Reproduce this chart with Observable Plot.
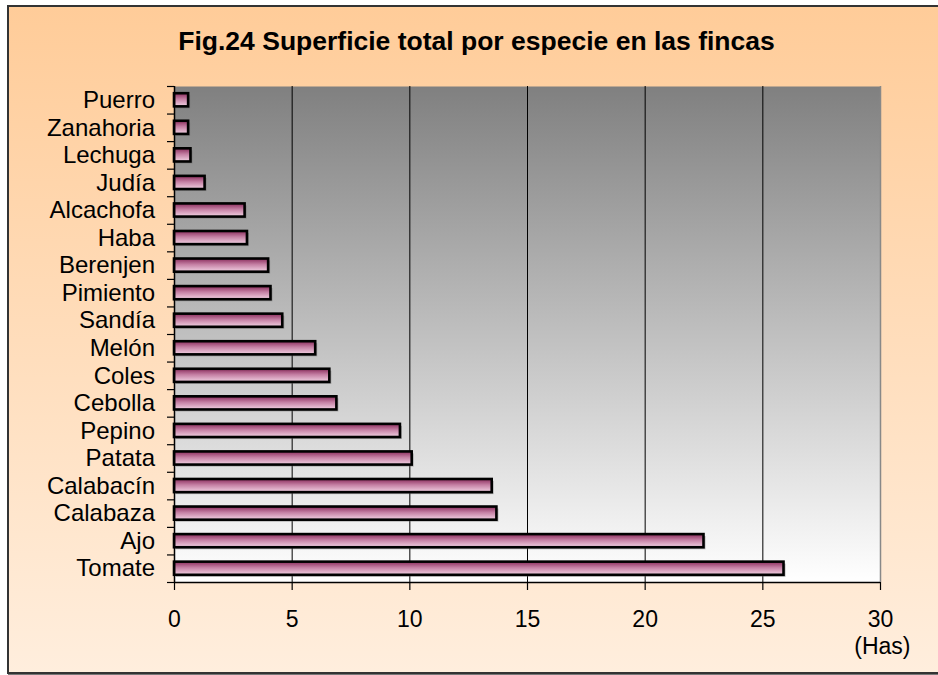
<!DOCTYPE html>
<html><head><meta charset="utf-8">
<script src="https://cdn.jsdelivr.net/npm/d3@7"></script>
<script src="https://cdn.jsdelivr.net/npm/@observablehq/plot@0.6"></script>
<style>
body{margin:0;background:#fff;overflow:hidden;}
#wrap{position:relative;width:938px;height:675px;overflow:hidden;font-family:"Liberation Sans",Arial,sans-serif;}
#frame{position:absolute;left:7px;top:5px;width:940px;height:665px;border:2px solid #333;background:linear-gradient(#FFCC99,#FFEEDD);box-shadow:1px 1px 0 #777;}
#title{position:absolute;left:0;width:953px;top:28px;text-align:center;font-weight:bold;font-size:26.5px;line-height:26px;color:#000;}
#chart{position:absolute;left:0;top:0;}
</style></head>
<body>
<svg width="0" height="0" style="position:absolute">
<defs>
<linearGradient id="pg" x1="0" y1="0" x2="0" y2="1">
<stop offset="0" stop-color="#808080"/><stop offset="1" stop-color="#ffffff"/>
</linearGradient>
<linearGradient id="bg" x1="0" y1="0" x2="0" y2="1">
<stop offset="0" stop-color="#8a2c5c"/><stop offset="0.45" stop-color="#c580a4"/><stop offset="1" stop-color="#f2d2e3"/>
</linearGradient>
</defs>
</svg>
<div id="wrap">
<div id="frame"></div>
<div id="title">Fig.24 Superficie total por especie en las fincas</div>
<div id="chart"></div>
</div>
<script>
const categories = ["Puerro","Zanahoria","Lechuga","Judía","Alcachofa","Haba","Berenjen","Pimiento","Sandía","Melón","Coles","Cebolla","Pepino","Patata","Calabacín","Calabaza","Ajo","Tomate"];
const values = [0.6,0.6,0.7,1.3,3.0,3.1,4.0,4.1,4.6,6.0,6.6,6.9,9.6,10.1,13.5,13.7,22.5,25.9];
const xTicks = [0,5,10,15,20,25,30];
const gridValues = [5,10,15,20,25];
const xLabel = "(Has)";

const data = categories.map((c,i)=>({especie:c, superficie:values[i]}));
const W=938,H=675,mT=86,mB=93,mL=174,mR=58;
const step=(H-mT-mB)/categories.length;
const inset=7.2;

const chart = Plot.plot({
  width:W,height:H,marginTop:mT,marginBottom:mB,marginLeft:mL,marginRight:mR,
  style:{background:"transparent",fontFamily:"'Liberation Sans', Arial, sans-serif",fontSize:"23px",color:"#000",overflow:"visible"},
  x:{domain:[0,30],ticks:xTicks},
  y:{domain:categories,padding:0,round:false},
  marks:[
    Plot.frame({fill:"url(#pg)",stroke:null}),
    Plot.ruleX(gridValues,{stroke:"#000",strokeWidth:1}),
    Plot.ruleX([30],{stroke:"#888",strokeWidth:1.5}),
    Plot.barX(data,{x:"superficie",y:"especie",insetTop:inset,insetBottom:inset,fill:"#666",fillOpacity:0.45,dx:2,dy:2}),
    Plot.barX(data,{x:"superficie",y:"especie",insetTop:inset,insetBottom:inset,fill:"url(#bg)",stroke:"#000",strokeWidth:2.6}),
    Plot.ruleY([categories[categories.length-1]],{y:d=>d,dy:step/2,x1:0,x2:30,stroke:"#000",strokeWidth:1.5}),
    Plot.ruleX([0],{stroke:"#000",strokeWidth:1.5}),
    Plot.axisX({ticks:xTicks,tickSize:8,tickPadding:20,label:null,stroke:"#000",strokeWidth:1.2}),
    Plot.axisY({ticks:categories,tickSize:7,tickFormat:()=>"",label:null,dy:-step/2,stroke:"#000",strokeWidth:1.2}),
    Plot.axisY({ticks:[categories[categories.length-1]],tickSize:7,tickFormat:()=>"",label:null,dy:step/2,stroke:"#000",strokeWidth:1.2}),
    Plot.axisY({ticks:categories,tickSize:0,tickPadding:19.5,label:null,fontSize:24}),
    Plot.text([xLabel],{text:d=>d,frameAnchor:"bottom-right",dx:30,dy:71,textAnchor:"end",fontSize:23})
  ]
});
document.getElementById("chart").appendChild(chart);
</script>
</body></html>
